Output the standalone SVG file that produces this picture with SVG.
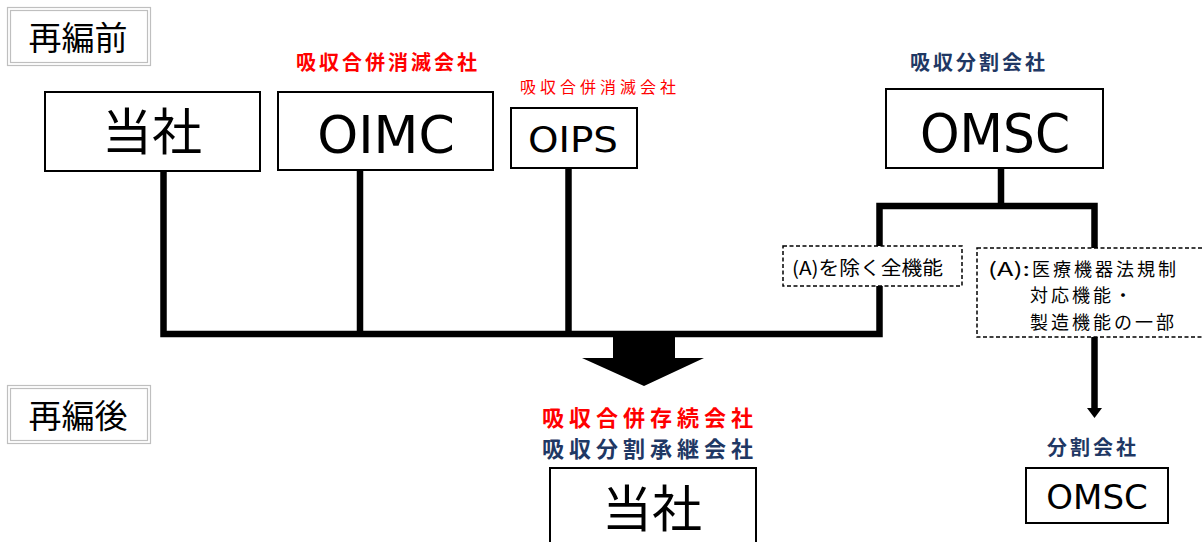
<svg xmlns="http://www.w3.org/2000/svg" width="1203" height="542" viewBox="0 0 1203 542">
<style>
.box{fill:#fff;stroke:#000;stroke-width:2}
.dash{fill:#fff;stroke:#000;stroke-width:1.5;stroke-dasharray:4 2.5}
.g1{fill:#fff;stroke:#bfbfbf;stroke-width:1.2}
.jp{font-family:"Noto Sans CJK JP","Noto Sans",sans-serif}
.lat{font-family:"DejaVu Sans","Noto Sans CJK JP",sans-serif}
.red{fill:#ff0000;font-weight:bold}
.navy{fill:#1f3864;font-weight:bold}
.conn{fill:none;stroke:#000;stroke-width:6.5;stroke-linejoin:miter}
.al{font-size:18px;fill:#000;letter-spacing:3px}
</style>
<rect width="1203" height="542" fill="#fff"/>
<g id="connectors">
<path class="conn" d="M163.5,171 V334 H879.5 V206 H1094.5 V248"/>
<path class="conn" d="M360,170 V334"/>
<path class="conn" d="M568.5,168 V334"/>
<path class="conn" d="M1001,168 V206"/>
<path class="conn" d="M1094.5,337 V410"/>
<polygon points="1087,408 1102,408 1094.5,418" fill="#000"/>
<polygon points="613,331 675,331 675,358 704,358 644,386 582,358 613,358" fill="#000"/>
</g>
<g id="before">
<rect class="g1" x="7.5" y="7.5" width="143" height="58"/>
<rect class="g1" x="10.5" y="10.5" width="137" height="52"/>
<text class="jp" x="78" y="50" font-size="33" text-anchor="middle" fill="#000">再編前</text>
</g>
<g id="after">
<rect class="g1" x="7.5" y="385.5" width="143" height="58"/>
<rect class="g1" x="10.5" y="388.5" width="137" height="52"/>
<text class="jp" x="78" y="428" font-size="33" text-anchor="middle" fill="#000">再編後</text>
</g>
<g id="node-tosha">
<rect class="box" x="45" y="92" width="215" height="79"/>
<text class="jp" x="152" y="150" font-size="50" text-anchor="middle" fill="#000">当社</text>
</g>
<g id="node-oimc">
<text class="jp red" x="388" y="70" font-size="20" text-anchor="middle" letter-spacing="3">吸収合併消滅会社</text>
<rect class="box" x="278" y="92" width="215" height="78"/>
<text class="lat" x="386" y="153" font-size="52" text-anchor="middle" fill="#000">OIMC</text>
</g>
<g id="node-oips">
<text class="jp" x="600" y="93" font-size="16" text-anchor="middle" fill="#ff0000" letter-spacing="4">吸収合併消滅会社</text>
<rect class="box" x="511" y="108" width="126" height="60"/>
<text class="lat" x="573" y="152" font-size="35" text-anchor="middle" fill="#000" textLength="90" lengthAdjust="spacingAndGlyphs">OIPS</text>
</g>
<g id="node-omsc">
<text class="jp navy" x="979" y="70" font-size="20" text-anchor="middle" letter-spacing="3">吸収分割会社</text>
<rect class="box" x="886" y="89" width="217" height="79"/>
<text class="lat" x="995" y="152" font-size="54" text-anchor="middle" fill="#000" textLength="150" lengthAdjust="spacingAndGlyphs">OMSC</text>
</g>
<g id="label-a-excl">
<rect class="dash" x="783" y="246" width="179" height="40"/>
<text class="jp" x="792" y="275" font-size="19" fill="#000" textLength="151" lengthAdjust="spacingAndGlyphs">(A)を除く全機能</text>
</g>
<g id="label-a">
<rect class="dash" x="977" y="248" width="240" height="89"/>
<text class="jp" x="988" y="275.5" font-size="19" fill="#000" textLength="42" lengthAdjust="spacingAndGlyphs">(A):</text>
<text class="jp al" x="1032" y="275.5">医療機器法規制</text>
<text class="jp al" x="1030" y="302">対応機能・</text>
<text class="jp al" x="1030" y="328.5">製造機能の一部</text>
</g>
<g id="node-tosha-after">
<text class="jp red" x="650" y="426" font-size="22" text-anchor="middle" letter-spacing="5">吸収合併存続会社</text>
<text class="jp navy" x="650" y="457" font-size="22" text-anchor="middle" letter-spacing="5">吸収分割承継会社</text>
<rect class="box" x="550" y="468" width="206" height="90"/>
<text class="jp" x="652" y="527" font-size="50" text-anchor="middle" fill="#000">当社</text>
</g>
<g id="node-omsc-after">
<text class="jp navy" x="1093" y="455" font-size="20" text-anchor="middle" letter-spacing="3">分割会社</text>
<rect class="box" x="1026" y="468" width="142" height="55"/>
<text class="lat" x="1097" y="509" font-size="34" text-anchor="middle" fill="#000">OMSC</text>
</g>
</svg>
